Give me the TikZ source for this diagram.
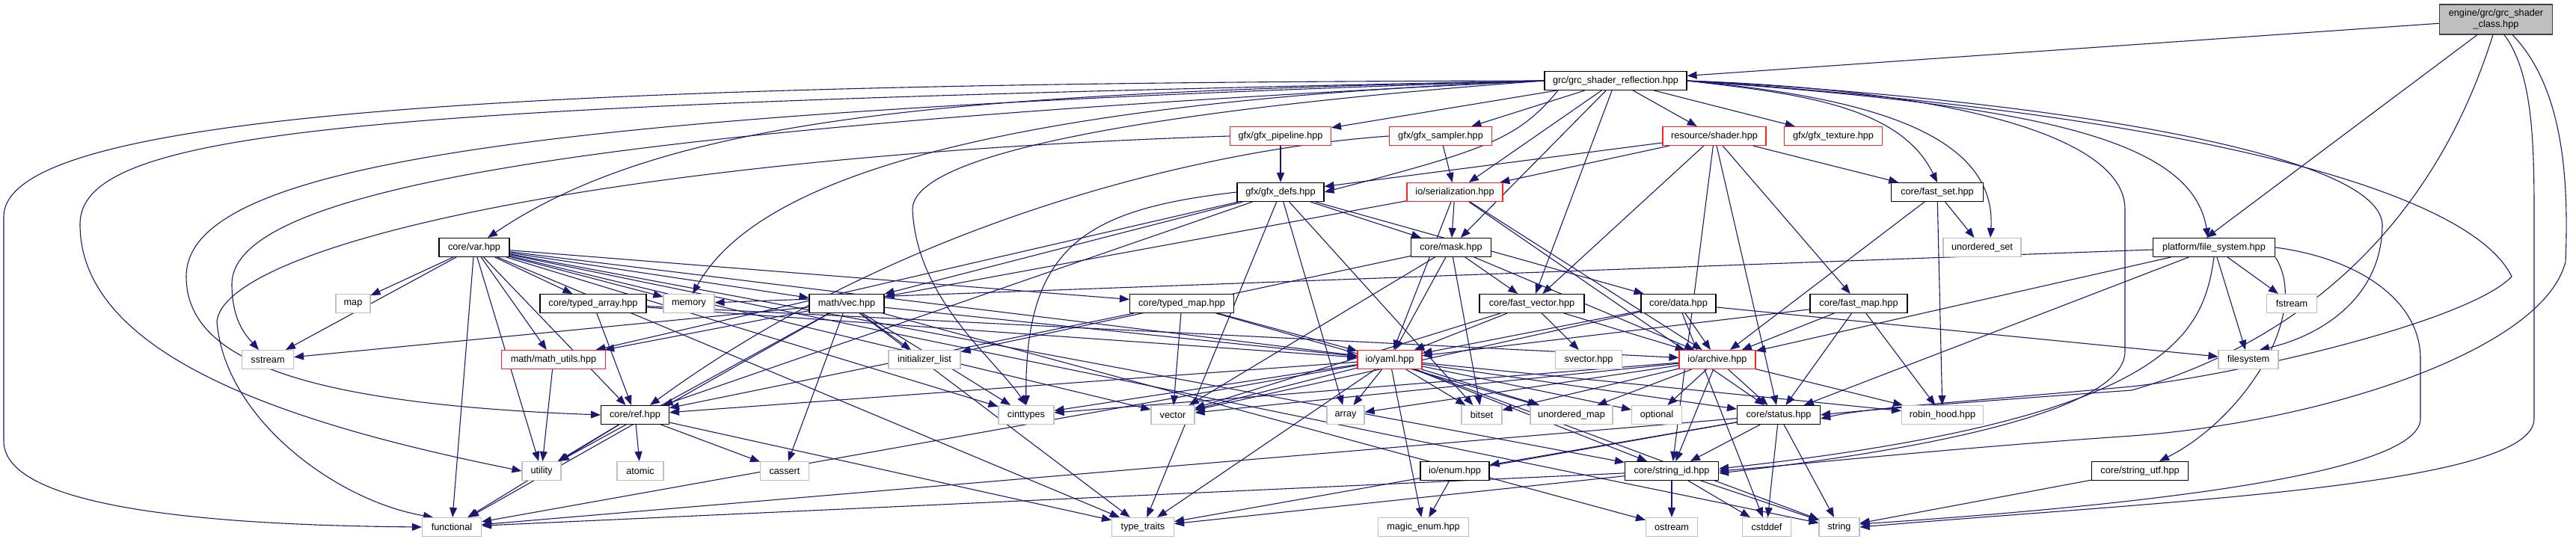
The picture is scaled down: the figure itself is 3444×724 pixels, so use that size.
\documentclass[tikz,border=0pt]{standalone}
\usepackage{fontspec}
\setmainfont{Liberation Sans}
\usetikzlibrary{arrows.meta,backgrounds}
\definecolor{eb}{HTML}{191970}
\definecolor{gb}{HTML}{BFBFBF}
\definecolor{rb}{HTML}{FF2020}
\definecolor{kb}{HTML}{404040}
\tikzset{
 base/.style={rectangle, fill=white, inner sep=0pt, minimum height=25pt, font=\fontsize{12.7}{15}\selectfont, line width=1.1pt},
 blk/.style={base, draw=black},
 trunc/.style={base, draw=rb},
 ext/.style={base, draw=gb},
 root/.style={base, draw=kb, fill=gb, align=center, minimum height=40pt},
 lk/.style={draw=eb, line width=1.1pt, -{Triangle[length=13pt,width=10pt]}}
}
\begin{document}
\begin{tikzpicture}[x=1pt,y=-1pt]
\useasboundingbox (0,0) rectangle (3444,724);
% row 0-1
\node[root, minimum width=151pt] (A) at (3337,26) {engine/grc/grc\_shader\\\_class.hpp};
\node[blk, minimum width=190pt] (R) at (2160,108) {grc/grc\_shader\_reflection.hpp};
% row 2
\node[trunc, minimum width=135pt] (pipe) at (1712,182) {gfx/gfx\_pipeline.hpp};
\node[trunc, minimum width=137pt] (samp) at (1926,182) {gfx/gfx\_sampler.hpp};
\node[trunc, minimum width=138pt] (shader) at (2292,182) {resource/shader.hpp};
\node[trunc, minimum width=131pt] (tex) at (2451,182) {gfx/gfx\_texture.hpp};
% row 3
\node[blk, minimum width=116pt] (defs) at (1712,257) {gfx/gfx\_defs.hpp};
\node[trunc, minimum width=128pt] (ser) at (1945,257) {io/serialization.hpp};
\node[blk, minimum width=123pt] (fset) at (2590,257) {core/fast\_set.hpp};
% row 4
\node[blk, minimum width=94pt] (var) at (634,331) {core/var.hpp};
\node[blk, minimum width=107pt] (mask) at (1940,331) {core/mask.hpp};
\node[ext, minimum width=104pt] (uset) at (2650,331) {unordered\_set};
\node[blk, minimum width=163pt] (fs) at (2960,331) {platform/file\_system.hpp};
% row 5
\node[ext, minimum width=46pt] (map) at (472,406) {map};
\node[blk, minimum width=142pt] (tarr) at (793,406) {core/typed\_array.hpp};
\node[ext, minimum width=68pt] (memory) at (921,406) {memory};
\node[blk, minimum width=100pt] (vec) at (1132,406) {math/vec.hpp};
\node[blk, minimum width=139pt] (tmap) at (1580,406) {core/typed\_map.hpp};
\node[blk, minimum width=140pt] (fvec) at (2048,406) {core/fast\_vector.hpp};
\node[blk, minimum width=100pt] (data) at (2244,406) {core/data.hpp};
\node[blk, minimum width=130pt] (fmap) at (2485,406) {core/fast\_map.hpp};
\node[ext, minimum width=67pt] (fstream) at (3064,406) {fstream};
% row 6
\node[ext, minimum width=69pt] (sstream) at (358,481) {sstream};
\node[trunc, minimum width=139pt] (mutils) at (740,481) {math/math\_utils.hpp};
\node[ext, minimum width=96pt] (ilist) at (1236,481) {initializer\_list};
\node[trunc, minimum width=86pt] (yaml) at (1858,481) {io/yaml.hpp};
\node[ext, minimum width=89pt] (svec) at (2124,481) {svector.hpp};
\node[trunc, minimum width=102pt] (arch) at (2296,481) {io/archive.hpp};
\node[ext, minimum width=80pt] (fsys) at (3006,481) {filesystem};
% row 7
\node[blk, minimum width=91pt] (ref) at (849,555) {core/ref.hpp};
\node[ext, minimum width=74pt] (cint) at (1372,555) {cinttypes};
\node[ext, minimum width=58pt] (vector) at (1568,555) {vector};
\node[ext, minimum width=50pt] (array) at (1799,555) {array};
\node[ext, minimum width=54pt] (bitset) at (1981,555) {bitset};
\node[ext, minimum width=110pt] (umap) at (2101,555) {unordered\_map};
\node[ext, minimum width=67pt] (optional) at (2215,555) {optional};
\node[blk, minimum width=111pt] (status) at (2378,555) {core/status.hpp};
\node[ext, minimum width=109pt] (robin) at (2597,555) {robin\_hood.hpp};
% row 8
\node[ext, minimum width=52pt] (utility) at (724,630) {utility};
\node[ext, minimum width=62pt] (atomic) at (856,630) {atomic};
\node[ext, minimum width=65pt] (cassert) at (1049,630) {cassert};
\node[blk, minimum width=92pt] (enum) at (1945,630) {io/enum.hpp};
\node[blk, minimum width=125pt] (sid) at (2235,630) {core/string\_id.hpp};
\node[blk, minimum width=129pt] (sutf) at (2861,630) {core/string\_utf.hpp};
% row 9
\node[ext, minimum width=79pt] (functional) at (604,705) {functional};
\node[ext, minimum width=83pt] (ttraits) at (1528,705) {type\_traits};
\node[ext, minimum width=121pt] (menum) at (1903,705) {magic\_enum.hpp};
\node[ext, minimum width=69pt] (ostream) at (2235,705) {ostream};
\node[ext, minimum width=65pt] (cstddef) at (2362,705) {cstddef};
\node[ext, minimum width=54pt] (string) at (2459,705) {string};

\begin{scope}[on background layer]
% A
\draw[lk] (A) -- (R);
\draw[lk] ([xshift=-25pt]A.south) -- ([xshift=-10pt]fs.north);
\draw[lk] ([xshift=-4pt]A.south) .. controls (3300,150) and (3200,420) .. (2850,522) .. controls (2600,540) and (2480,550) .. (status.east);
\draw[lk] ([xshift=11pt]A.south) .. controls (3388,100) and (3388,200) .. (3388,300) -- (3388,560) .. controls (3388,650) and (2900,670) .. (string.east);
\draw[lk] ([xshift=22pt]A.south) .. controls (3430,120) and (3434,250) .. (3430,350) .. controls (3400,470) and (3100,565) .. (2850,583) .. controls (2600,600) and (2400,622) .. (sid.east);
% R
\draw[lk] (R) -- (pipe);
\draw[lk] (R) -- (samp);
\draw[lk] (R) -- (shader);
\draw[lk] (R) -- (tex);
\draw[lk] ([xshift=-77pt]R.south) .. controls (2030,185) and (1990,200) .. (defs.east);
\draw[lk] (R) -- (ser);
\draw[lk] (R) -- (mask);
\draw[lk] (R) -- (fvec);
\draw[lk] (R.east) .. controls (2400,125) and (2540,140) .. (fset.north);
\draw[lk] (R.east) .. controls (2500,130) and (2670,180) .. ([xshift=11pt]uset.north);
\draw[lk] (R.west) .. controls (1300,125) and (900,150) .. ([xshift=18pt]var.north);
\draw[lk] (R.west) .. controls (1250,140) and (1000,260) .. ([xshift=5pt]memory.north);
\draw[lk] (R.west) .. controls (600,110) and (5,160) .. (5,290) -- (5,590) .. controls (5,690) and (350,703) .. (functional.west);
\draw[lk] (R.west) .. controls (500,140) and (107,170) .. (107,300) .. controls (107,480) and (400,570) .. (utility.west);
\draw[lk] (R.west) .. controls (700,150) and (249,220) .. (249,370) .. controls (249,480) and (400,540) .. (ref.west);
\draw[lk] (R.west) .. controls (800,170) and (310,250) .. (310,380) .. controls (310,430) and (330,450) .. ([xshift=-12pt]sstream.north);
\draw[lk] (R.west) .. controls (1500,150) and (1220,210) .. (1220,280) .. controls (1225,400) and (1330,480) .. (cint.north);
\draw[lk] (R.east) .. controls (2700,140) and (2930,180) .. ([xshift=-8pt]fs.north);
\draw[lk] (R.east) .. controls (2700,130) and (3180,200) .. (3185,300) .. controls (3185,400) and (3100,450) .. ([xshift=15pt]fsys.north);
\draw[lk] (R.east) .. controls (2600,120) and (2841,180) .. (2841,280) -- (2841,470) .. controls (2841,560) and (2500,610) .. ([yshift=-3pt]sid.east);
\draw[lk] (R.east) .. controls (2900,150) and (3300,250) .. (3358,370) .. controls (3300,430) and (3000,500) .. (2850,517) .. controls (2600,540) and (2500,545) .. ([yshift=-5pt]status.east);
% pipe, samp
\draw[lk] (pipe) -- (defs);
\draw[lk] (pipe.west) .. controls (800,210) and (300,330) .. (290,430) .. controls (300,560) and (450,670) .. ([xshift=-25pt]functional.north);
\draw[lk] (samp) -- (ser);
\draw[lk] (samp.west) .. controls (1600,200) and (1200,300) .. ([xshift=20pt]ref.north);
% shader
\draw[lk] (shader) -- (defs);
\draw[lk] (shader) -- (ser);
\draw[lk] (shader) -- (fvec);
\draw[lk] (shader) -- (fmap);
\draw[lk] (shader) -- (status);
\draw[lk] (shader) -- (fset);
\draw[lk] (shader) -- (sid);
% defs
\draw[lk] (defs) -- (vec);
\draw[lk] (defs) -- (ref);
\draw[lk] (defs.west) .. controls (1450,280) and (1370,330) .. (cint);
\draw[lk] (defs) -- (ttraits);
\draw[lk] (defs) -- (array);
\draw[lk] (defs) -- (bitset);
\draw[lk] (defs) -- (mask);
\draw[lk] (defs) -- (data);
\draw[lk] (defs) -- (mutils);
% ser
\draw[lk] (ser) -- (mask);
\draw[lk] (ser) -- (yaml);
\draw[lk] (ser) -- (arch);
\draw[lk] (ser) -- (status);
\draw[lk] (ser) -- (vec);
% fset
\draw[lk] (fset) -- (uset);
\draw[lk] (fset) -- (robin);
\draw[lk] (fset) -- (arch);
% var
\draw[lk] (var) -- (map);
\draw[lk] (var) -- (sstream);
\draw[lk] (var) -- (functional);
\draw[lk] (var) -- (memory);
\draw[lk] (var) -- (tarr);
\draw[lk] (var) -- (vec);
\draw[lk] (var) -- (tmap);
\draw[lk] (var) -- (mutils);
\draw[lk] (var) -- (ref);
\draw[lk] (var) -- (utility);
\draw[lk] (var) -- (cint);
\draw[lk] (var) -- (vector);
\draw[lk] (var) -- (ttraits);
\draw[lk] (var) -- (yaml);
\draw[lk] (var) -- (sid);
\draw[lk] (var) -- (string);
% mask
\draw[lk] (mask) -- (yaml);
\draw[lk] (mask) -- (bitset);
\draw[lk] (mask) -- (fvec);
\draw[lk] (mask) -- (arch);
\draw[lk] (mask) -- (ilist);
\draw[lk] (mask) -- (vector);
% fs
\draw[lk] (fs) -- (memory);
\draw[lk] (fs) -- (fsys);
\draw[lk] (fs) -- (fstream);
\draw[lk] (fs.south east) .. controls (3090,420) and (3000,560) .. (sutf);
\draw[lk] (fs.east) .. controls (3150,345) and (3236,400) .. (3236,480) -- (3236,560) .. controls (3236,640) and (2800,680) .. ([yshift=4pt]string.east);
\draw[lk] (fs) -- (status);
\draw[lk] (fs.south) .. controls (2945,450) and (2900,560) .. ([yshift=3pt]sid.east);
\draw[lk] (fs) -- (arch);
% tarr
\draw[lk] (tarr) -- (ref);
\draw[lk] (tarr) -- (yaml);
\draw[lk] (tarr) -- (arch);
% vec
\draw[lk] (vec) -- (mutils);
\draw[lk] (vec) -- (utility);
\draw[lk] (vec) -- (cassert);
\draw[lk] (vec) -- (ilist);
\draw[lk] (vec) -- (yaml);
\draw[lk] (vec) -- (cint);
\draw[lk] (vec) -- (ostream);
\draw[lk] (vec) -- (ttraits);
\draw[lk] (vec) -- (sstream);
\draw[lk] (vec) -- (functional);
% tmap
\draw[lk] (tmap) -- (ref);
\draw[lk] (tmap) -- (vector);
\draw[lk] (tmap) -- (yaml);
\draw[lk] (tmap) -- (umap);
% fvec
\draw[lk] (fvec) -- (svec);
\draw[lk] (fvec) -- (yaml);
\draw[lk] (fvec) -- (arch);
\draw[lk] (fvec) -- (vector);
% data
\draw[lk] (data) -- (yaml);
\draw[lk] (data) -- (arch);
\draw[lk] (data) -- (fsys);
\draw[lk] (data) -- (vector);
\draw[lk] (data) -- (cstddef);
% fmap
\draw[lk] (fmap) -- (robin);
\draw[lk] (fmap) -- (arch);
\draw[lk] (fmap) -- (yaml);
\draw[lk] (fmap) -- (status);
% mutils
\draw[lk] (mutils) -- (utility);
% yaml
\draw[lk] (yaml) -- (array);
\draw[lk] (yaml) -- (bitset);
\draw[lk] (yaml) -- (umap);
\draw[lk] (yaml) -- (optional);
\draw[lk] (yaml) -- (vector);
\draw[lk] (yaml) -- (cint);
\draw[lk] (yaml) -- (ttraits);
\draw[lk] (yaml) -- (menum);
\draw[lk] (yaml) -- (ref);
\draw[lk] (yaml) -- (sid);
\draw[lk] (yaml) -- (string);
\draw[lk] (yaml) -- (status);
\draw[lk] (yaml) -- (robin);
\draw[lk] (yaml) -- (functional);
% arch
\draw[lk] (arch) -- (status);
\draw[lk] (arch) -- (sid);
\draw[lk] (arch) -- (vector);
\draw[lk] (arch) -- (cint);
\draw[lk] (arch) -- (array);
\draw[lk] (arch) -- (bitset);
\draw[lk] (arch) -- (umap);
\draw[lk] (arch) -- (optional);
\draw[lk] (arch) -- (robin);
% ref
\draw[lk] (ref) -- (utility);
\draw[lk] (ref) -- (atomic);
\draw[lk] (ref) -- (cassert);
\draw[lk] (ref) -- (functional);
\draw[lk] (ref) -- (ttraits);
% status
\draw[lk] (status) -- (enum);
\draw[lk] (status) -- (cstddef);
\draw[lk] (status) -- (string);
\draw[lk] (status) -- (sid);
\draw[lk] (status) -- (functional);
\draw[lk] (status) -- (ttraits);
% sid
\draw[lk] (sid) -- (ostream);
\draw[lk] (sid) -- (string);
\draw[lk] (sid) -- (cstddef);
\draw[lk] (sid) -- (functional);
\draw[lk] (sid) -- (ttraits);
% others
\draw[lk] (enum) -- (menum);
\draw[lk] (sutf) -- (string);
\end{scope}
\end{tikzpicture}
\end{document}
